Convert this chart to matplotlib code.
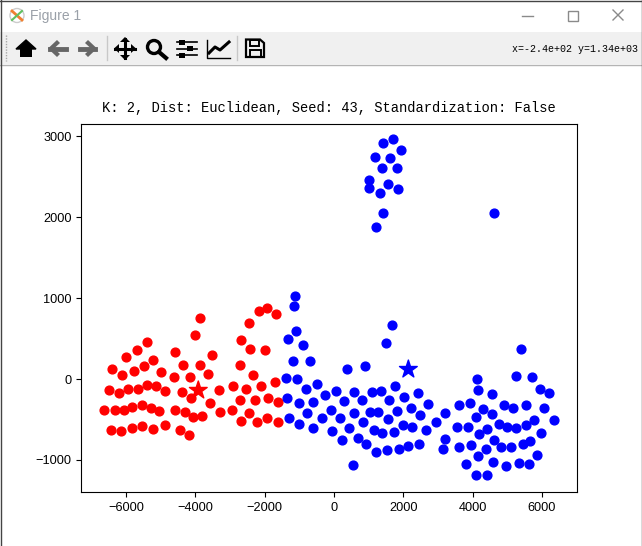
import matplotlib
matplotlib.use("Agg")
import matplotlib.pyplot as plt
from matplotlib.patches import Rectangle, Polygon, Circle

red_x = [-3856,-4001,-5385,-5674,-5991,-5232,-4578,-3510,-6395,-5472,-5760,-6107,-4981,-4347,-3856,-3625,-4606,-4145,
         -6482,-6193,-5934,-5664,-5385,-5145,-4866,-4376,-4116,-3568,-3308,-6626,-6309,-6049,-5818,-5530,-5270,-5039,
         -4578,-4289,-4058,-3799,-3279,-6424,-6136,-5818,-5530,-5232,-4866,-4433,-4174,
         -1923,-2154,-1664,-2443,-2673,-2414,-1981,-2702,-2327,-1692,-2096,-2904,-2529,-2702,-2269,-1894,-1606,-2933,
         -2443,-2673,-2212,-1923,-1606]
red_y = [749,539,453,354,267,231,329,292,119,156,94,45,82,168,168,57,20,20,
         -140,-177,-128,-128,-78,-91,-152,-165,-239,-301,-140,-387,-387,-387,-350,-325,-362,-399,
         -387,-412,-474,-461,-412,-634,-646,-609,-585,-622,-572,-634,-696,
         873,836,799,688,478,367,354,168,45,-41,-91,-91,-128,-263,-263,-239,-288,-387,
         -424,-523,-535,-486,-535]
blue_x = [-1115,-1144,-1086,-1317,-884,-1173,-682,-1375,-1057,-798,-480,-1346,-1000,-596,-250,68,-769,-1288,-1000,-596,
          -336,-76,183,299,587,818,1106,1366,1770,1597,2030,2434,2722,2232,1828,2491,587,1049,1280,1568,847,443,-48,241,
          703,933,1164,1395,1741,2001,2260,2664,1222,1539,1885,2145,2462,558,385,904,1510,1683,
          5405,5260,5722,4135,4164,4568,5953,6212,2952,3212,3212,3154,3616,3933,4308,4568,4106,3558,3875,4424,4193,4770,
          5001,5260,5549,5780,6357,6068,5549,5174,4914,5982,5664,5462,5116,4828,4626,4395,3962,3616,4164,3818,4597,4972,
          5347,5635,5866,4106,4424,
          1712,1424,1943,1193,1626,1395,1828,1020,1020,1568,1856,1337,1424,1222,4626]
blue_y = [1021,897,589,490,416,218,218,8,-4,-128,-66,-239,-301,-288,-202,-152,-424,-486,-560,-609,
          -486,-387,-486,-276,-165,-263,-165,-152,-91,-263,-226,-177,-313,-362,-399,-449,-424,-412,-412,-498,-535,-609,-646,-757,
          -733,-807,-634,-671,-659,-572,-597,-634,-906,-881,-869,-832,-807,-1066,119,156,440,663,
          366,33,20,-4,-140,-190,-128,-177,-535,-424,-745,-869,-325,-301,-375,-437,-474,-597,-597,-622,-684,-560,
          -597,-610,-572,-511,-511,-362,-325,-362,-325,-671,-770,-807,-844,-844,-758,-869,-819,-844,-955,-1054,-1029,-1079,
          -1042,-1054,-943,-1190,-1190,
          2960,2911,2824,2738,2725,2602,2602,2454,2355,2404,2342,2293,2046,1873,2046]
centers_x = [-3914, 2145]
centers_y = [-140, 119]
center_colors = ["red", "blue"]
title = "K: 2, Dist: Euclidean, Seed: 43, Standardization: False"
x_ticks = [-6000, -4000, -2000, 0, 2000, 4000, 6000]
y_ticks = [-1000, 0, 1000, 2000, 3000]

W, H = 642, 546
fig = plt.figure(figsize=(W / 100, H / 100), dpi=100, facecolor="white")
ax = fig.add_axes([81.5 / W, 1 - 491.8 / H, (577 - 81.5) / W, (491.8 - 123.5) / H])
ax.scatter(red_x, red_y, c="red", s=40)
ax.scatter(blue_x, blue_y, c="blue", s=40)
ax.scatter(centers_x, centers_y, c=center_colors, marker="*", s=180)
ax.set_xlim(-7283, 7009)
ax.set_ylim(-1393, 3156)
ax.set_xticks(x_ticks)
ax.set_yticks(y_ticks)
ax.tick_params(labelsize=9.2)
for lab in ax.get_xticklabels() + ax.get_yticklabels():
    lab.set_family("Liberation Sans")
ax.set_title(title, family="Liberation Mono", fontsize=9.95, pad=8.5)

# window chrome, in pixel coordinates
ui = fig.add_axes([0, 0, 1, 1], zorder=5)
ui.set_xlim(0, W)
ui.set_ylim(H, 0)
ui.axis("off")
ui.patch.set_alpha(0)
ui.add_patch(Rectangle((0, 32), W, 32, fc="#f0f0f0", ec="none"))
ui.plot([0, W], [64.5, 64.5], color="#b4b4b4", lw=1)
ui.plot([0, W], [0.5, 0.5], color="#444444", lw=1)
ui.plot([0.5, 0.5], [0, H], color="#444444", lw=1)
ui.plot([W - 0.5, W - 0.5], [0, H], color="#444444", lw=1)
ui.text(30, 16, "Figure 1", color="#9aa0a8", fontsize=10, family="Liberation Sans", va="center")
# window icon
ui.add_patch(Circle((17, 15.5), 7, fc="white", ec="#cccccc", lw=1))
ui.plot([12, 22], [11, 20], color="#f08030", lw=2)
ui.plot([12, 22], [20, 11], color="#60c060", lw=1.5)
# window buttons
ui.plot([522, 533], [15.5, 15.5], color="#8a8a8a", lw=1)
ui.add_patch(Rectangle((567.5, 10.5), 10, 10, fc="none", ec="#8a8a8a", lw=1))
ui.plot([613, 623], [10, 20], color="#8a8a8a", lw=1)
ui.plot([613, 623], [20, 10], color="#8a8a8a", lw=1)
# toolbar grip and separators
ui.plot([6, 6], [35, 61], color="#a8a8a8", lw=1, ls=(0, (1, 1)))
ui.plot([106.5, 106.5], [36, 60], color="#c8c8c8", lw=1)
ui.plot([236.5, 236.5], [36, 60], color="#c8c8c8", lw=1)
# home
ui.add_patch(Polygon([(16, 49), (26, 40), (36, 49)], fc="black", ec="black", lw=1))
ui.add_patch(Rectangle((20, 49), 12, 8, fc="black", ec="none"))
# back / forward
g = "#666666"
ui.plot([50, 66], [48.5, 48.5], color=g, lw=3.5)
ui.add_patch(Polygon([(48, 48.5), (57, 40), (60, 43), (54, 48.5), (60, 54), (57, 57)], fc=g, ec="none"))
ui.plot([80, 95], [48.5, 48.5], color=g, lw=3.5)
ui.add_patch(Polygon([(97, 48.5), (88, 40), (85, 43), (91, 48.5), (85, 54), (88, 57)], fc=g, ec="none"))
# pan
ui.plot([115, 135], [48.5, 48.5], color="black", lw=2.2)
ui.plot([125, 125], [39, 58], color="black", lw=2.2)
for p in ([(114, 48.5), (119, 44), (119, 53)], [(136, 48.5), (131, 44), (131, 53)],
          [(125, 37), (120, 42), (130, 42)], [(125, 60), (120, 55), (130, 55)]):
    ui.add_patch(Polygon(p, fc="black", ec="none"))
# zoom
ui.add_patch(Circle((154, 47), 6.5, fc="none", ec="black", lw=2.4))
ui.plot([159, 166], [52, 58], color="black", lw=3)
# sliders
for yy, xx in ((42, 182), (48.5, 190), (55, 182)):
    ui.plot([177, 197], [yy, yy], color="black", lw=1.2)
    ui.add_patch(Rectangle((xx - 3, yy - 2.5), 6, 5, fc="black", ec="none"))
# axes edit
ui.plot([207, 207, 230], [40, 57.5, 57.5], color="black", lw=1)
ui.plot([209, 215, 220, 229], [53, 47, 50, 42], color="black", lw=2.2)
# save
ui.add_patch(Polygon([(246, 39.5), (260, 39.5), (264, 43), (264, 57), (246, 57)], fc="none", ec="black", lw=1.6))
ui.add_patch(Rectangle((249.5, 39.5), 9, 6, fc="none", ec="black", lw=1.4))
ui.add_patch(Rectangle((249.5, 50), 11, 7, fc="none", ec="black", lw=1.4))
# coordinates read-out
ui.text(638, 48.5, "x=-2.4e+02 y=1.34e+03", family="Liberation Mono", fontsize=7.2, ha="right", va="center")

fig.savefig("out.png", dpi=100)
